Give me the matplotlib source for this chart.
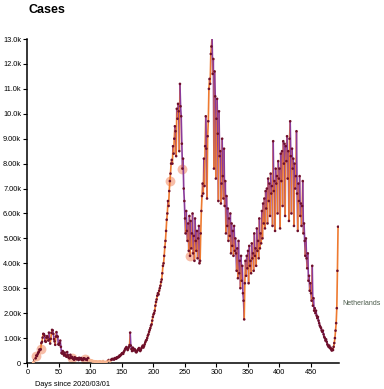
import numpy as np
import matplotlib
matplotlib.use('Agg')
import matplotlib.pyplot as plt
from matplotlib.collections import LineCollection

plt.rcParams['font.family'] = ['Liberation Sans', 'DejaVu Sans']

FIRST_DAY = 9
# daily cases, one list per stretch of the curve
cases_wave1 = [20, 60, 120, 110, 190, 300, 280, 350, 410, 450, 540, 520, 550, 800, 850,
               1020, 1170, 1160, 1100, 880, 850, 1020, 1080, 1030, 900, 1220, 950, 780,
               970, 1210, 1330, 1310, 1170, 960, 870, 730, 1060, 1240, 1070, 1060, 750,
               730, 800, 900, 650, 400, 380, 480, 370, 300, 420]
cases_spring = [330, 280, 250, 440, 320, 230, 200, 190, 330, 250, 210, 240, 180, 160, 130,
                230, 200, 180, 150, 190, 170, 120, 210, 150, 170, 200, 130, 140, 120, 190,
                180, 160, 160, 140, 150, 120, 200, 140, 110, 100]
cases_summer = [90, 80, 110, 70, 60, 80, 60, 50, 60, 70, 50, 40, 60, 40, 60, 70, 50, 40, 40,
                60, 80, 50, 30, 40, 20, 50, 60, 80, 100, 120, 90, 70, 100, 130, 160, 150,
                170, 140, 150, 200]
cases_august = [190, 170, 230, 210, 250, 240, 300, 280, 330, 340, 390, 400, 370, 450, 500,
                560, 600, 640, 580, 520, 580, 650, 720, 1220, 700, 560, 480, 620, 580, 500,
                560, 520, 440, 430, 480, 520, 560, 600, 540, 480, 530, 600, 650, 700]
cases_rise = [620, 680, 750, 830, 900, 920, 1000, 1100, 1150, 1250, 1330, 1400, 1500, 1550,
              1700, 1850, 1950, 2000, 2100, 2300, 2450, 2550, 2700, 2800, 2750, 2900, 3000,
              3100, 3250, 3350, 3600, 3900, 4000, 4300, 4650, 4900, 5300, 5750, 6000, 6500,
              6300]
cases_wave2 = [6900, 7300, 7600, 8000, 8150, 8000, 8700, 8400, 9000, 9500, 9300, 8300, 10200,
               9800, 10400, 10100, 8500, 11200, 10300, 9900, 8800, 7800, 8200, 7000, 6500]
cases_november = [5800, 5200, 6100, 5300, 4900, 5600, 4500, 5900, 4300, 5700, 4600, 5200, 6000,
                  4400, 5100, 4100, 5800, 4900, 4500, 5300, 4200, 5000, 5500, 4000, 4100, 5200,
                  6100, 6700]
cases_december = [7200, 6800, 8200, 7100, 8700, 9900, 8600, 6600, 9100, 9700, 11000, 11400,
                  11200, 12400, 12700, 13100, 11600, 12200, 7800, 11700, 10700, 7400, 9800]
cases_january = [10600, 9200, 6500, 10100, 8300, 8500, 6400, 7200, 9000, 7500, 6600, 8600, 6300,
                 7300, 5200, 6700, 5500, 6200, 4900, 5800, 5100, 6000, 4400, 5600, 4700, 5300,
                 4300, 5500, 4500, 5000]
cases_february = [4400, 3700, 4600, 3400, 4900, 3600, 4100, 3000, 4300, 3300, 3900, 2800, 2500,
                  1750, 3200, 4100, 3500, 4300, 3800, 4500, 3200, 4700, 3900, 4100, 3600, 4800,
                  4200, 4400, 3700, 5200, 4300, 4600, 3900, 5400, 4500, 4900, 4200, 5800, 4600,
                  5200, 4800, 6100, 5000, 6400, 5600, 6600]
cases_wave3 = [5400, 6900, 6200, 7000, 5600, 7400, 6500, 7200, 5900, 7600, 6800, 7100, 5500,
               8900, 6900, 7300, 5300, 7800, 7200, 7500, 6000, 8100, 7400, 7800, 5400, 8400,
               7300, 8500, 6300, 8900, 8000, 8800, 5900, 8700, 8100, 9100, 7400, 8500, 5700,
               9000, 9700, 8300, 6000, 8600, 7800, 8200, 5500, 8000, 7000, 7500, 9300, 6800,
               5300, 7200]
cases_decline = [6500, 7500, 5900, 6400, 5500, 6300, 7300, 5200, 5600, 4900, 4300, 5000, 4200,
                 3800, 4400, 3300, 3500, 2900, 3200, 2800, 2500, 3900, 2300, 2600, 2100, 2200,
                 2000, 2100, 1900, 1800, 1850, 1700, 1600, 1500, 1450, 1400, 1300, 1250, 1300,
                 1150, 1050, 1000, 900, 950, 850, 750, 700, 650, 700, 600, 620, 550, 500, 560,
                 520, 650, 800, 1000, 1300, 1600, 2200, 3700, 5470]

highlight_days = [14, 21, 70, 92, 226, 246, 258]

cases = (cases_wave1 + cases_spring + cases_summer + cases_august + cases_rise + cases_wave2
         + cases_november + cases_december + cases_january + cases_february + cases_wave3
         + cases_decline)
days = np.arange(FIRST_DAY, FIRST_DAY + len(cases))
cases = np.array(cases, dtype=float)

fig = plt.figure(figsize=(3.84, 3.89), dpi=100)
ax = fig.add_axes([0.0716, 0.0668, 0.8104, 0.8329])

# line segments, orange going up, purple going down
pts = np.column_stack([days, cases])
segs = np.stack([pts[:-1], pts[1:]], axis=1)
seg_colors = []
for a, b in zip(cases[:-1], cases[1:]):
    if max(a, b) < 150:
        seg_colors.append('#f9c4a4')
    elif b >= a:
        seg_colors.append('#ee7a30')
    else:
        seg_colors.append('#8a3b9a')
ax.add_collection(LineCollection(segs, colors=seg_colors, linewidths=1.2, zorder=2))

# highlighted points
hl = np.array(highlight_days)
ax.scatter(hl, cases[hl - FIRST_DAY], s=50, color='#f39a78', alpha=0.65, lw=0, zorder=1)

dot_colors = ['#f6b48f' if v < 120 else '#6e0f2a' for v in cases]
ax.scatter(days, cases, s=3.5, c=dot_colors, lw=0, zorder=3)

ax.set_xlim(0, 494)
ax.set_ylim(0, 13000)
ax.set_xticks(np.arange(0, 451, 50))
yt = np.arange(0, 13001, 1000)
ax.set_yticks(yt)

def fmt(v):
    if v == 0:
        return '0'
    if v < 10000:
        return '%.2fk' % (v / 1000)
    return '%.1fk' % (v / 1000)

ax.set_yticklabels([fmt(v) for v in yt])
ax.tick_params(labelsize=5.3, length=3, width=0.8, pad=1.5, colors='black')
for s in ['top', 'right']:
    ax.spines[s].set_visible(False)
for s in ['left', 'bottom']:
    ax.spines[s].set_linewidth(1.1)

fig.text(0.073, 0.974, 'Cases', fontsize=9, fontweight='bold', ha='left', va='center')
ax.text(500, 2370, 'Netherlands', fontsize=5, color='#4c5c4c', ha='left', va='center',
        clip_on=False)
fig.text(0.09, 0.003, 'Days since 2020/03/01', fontsize=5.3, ha='left', va='bottom')

fig.savefig('out.png', dpi=100)
